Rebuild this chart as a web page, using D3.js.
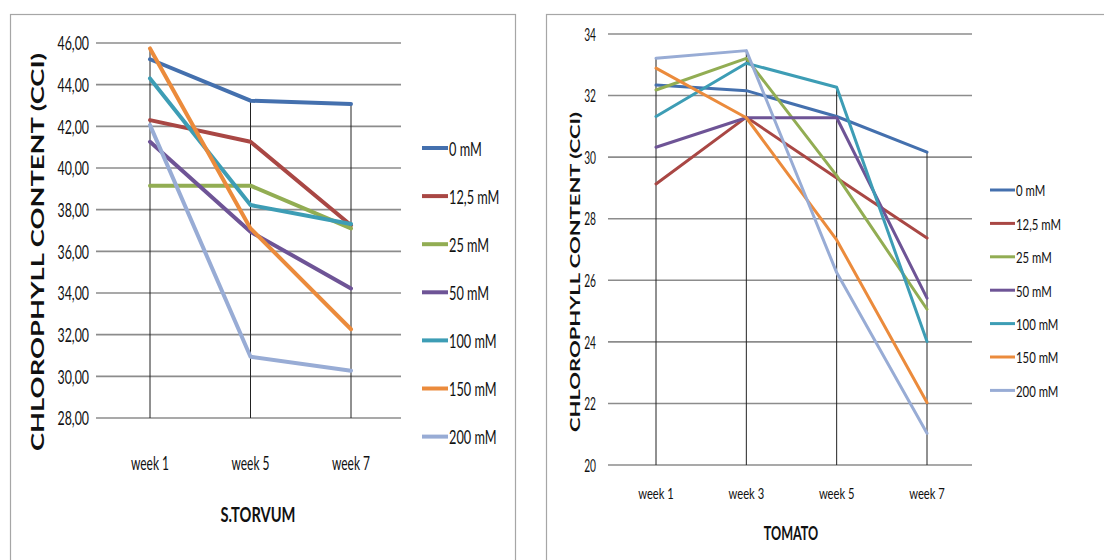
<!DOCTYPE html>
<html>
<head>
<meta charset="utf-8">
<script src="https://cdn.jsdelivr.net/npm/d3@7"></script>
<style>
  html, body { margin: 0; padding: 0; background: #fff; }
  svg { display: block; }
  text { font-family: Lato, "Open Sans", sans-serif; fill: #111; }
</style>
</head>
<body>
<svg id="chart" width="1104" height="560"></svg>
<script>
// Salt treatments shared by both panels
const doses = ["0 mM", "12,5 mM", "25 mM", "50 mM", "100 mM", "150 mM", "200 mM"];
const doseColors = ["#4470ae", "#a94744", "#92ad53", "#6e5496", "#3d9db5", "#eb8b3c", "#98acd5"];

// S. torvum: chlorophyll content (CCI) per dose, one row per dose
const torvumWeeks = ["week 1", "week 5", "week 7"];
const torvumValues = [
  [45.22, 43.23, 43.07],
  [42.30, 41.26, 37.25],
  [39.15, 39.15, 37.10],
  [41.26, 36.94, 34.22],
  [44.30, 38.22, 37.31],
  [45.74, 37.10, 32.26],
  [42.06, 30.94, 30.27]
];
const torvumTicks = [28, 30, 32, 34, 36, 38, 40, 42, 44, 46];

// Tomato: chlorophyll content (CCI) per dose
const tomatoWeeks = ["week 1", "week 3", "week 5", "week 7"];
const tomatoValues = [
  [32.34, 32.16, 31.32, 30.16],
  [29.13, 31.30, 29.32, 27.37],
  [32.18, 33.21, 29.40, 25.06],
  [30.32, 31.28, 31.28, 25.42],
  [31.32, 33.05, 32.27, 24.01],
  [32.89, 31.28, 27.31, 22.03],
  [33.21, 33.46, 26.25, 21.03]
];
const tomatoTicks = [20, 22, 24, 26, 28, 30, 32, 34];

const svg = d3.select("#chart");

// Horizontally condensed label placed at (x, y)
function label(g, str, x, y, opts) {
  const o = Object.assign({ size: 16, sx: 0.75, anchor: "start", weight: "normal", rotate: 0 }, opts || {});
  const t = g.append("text")
    .attr("transform", o.rotate
      ? `translate(${x},${y}) rotate(${o.rotate}) scale(1,${o.sx})`
      : `translate(${x},${y}) scale(${o.sx},1)`)
    .attr("text-anchor", o.anchor)
    .attr("dominant-baseline", "central")
    .style("font-size", o.size + "px")
    .style("font-weight", o.weight)
    .text(str);
  if (o.length) t.attr("textLength", o.length).attr("lengthAdjust", "spacingAndGlyphs");
  return t;
}

function drawPanel(cfg) {
  const g = svg.append("g");

  // chart frame
  g.append("rect")
    .attr("x", cfg.frame[0] + 0.5).attr("y", cfg.frame[1] + 0.5)
    .attr("width", cfg.frame[2]).attr("height", cfg.frame[3])
    .attr("fill", "none").attr("stroke", "#a6a6a6").attr("stroke-width", 1.2);

  const x = d3.scalePoint().domain(cfg.weeks).range(cfg.xRange);
  const y = d3.scaleLinear().domain(cfg.yDomain).range(cfg.yRange);

  // horizontal gridlines
  g.append("g").selectAll("line").data(cfg.ticks).join("line")
    .attr("x1", cfg.plotX[0]).attr("x2", cfg.plotX[1])
    .attr("y1", d => y(d)).attr("y2", d => y(d))
    .attr("stroke", "#8c8c8c").attr("stroke-width", 1.6);

  // tick labels
  cfg.ticks.forEach(t => label(g, cfg.tickFormat(t), cfg.tickX, y(t),
    { size: cfg.tickSize, sx: cfg.tickSx, anchor: "end" }));

  // drop lines from the highest series value to the category axis
  g.append("g").selectAll("line").data(cfg.weeks).join("line")
    .attr("x1", d => x(d)).attr("x2", d => x(d))
    .attr("y1", (d, i) => y(d3.max(cfg.values, s => s[i])))
    .attr("y2", y(cfg.yDomain[0]))
    .attr("stroke", "#222").attr("stroke-width", 1);

  // series lines
  const line = d3.line().x((d, i) => x(cfg.weeks[i])).y(d => y(d));
  g.append("g").selectAll("path").data(cfg.values).join("path")
    .attr("d", line)
    .attr("fill", "none")
    .attr("stroke", (d, i) => doseColors[i])
    .attr("stroke-width", cfg.lineWidth)
    .attr("stroke-linejoin", "round")
    .attr("stroke-linecap", "round");

  // category labels
  cfg.weeks.forEach(w => label(g, w, x(w), cfg.weekY,
    { size: cfg.weekSize, sx: cfg.weekSx, anchor: "middle" }));

  // axis titles
  label(g, cfg.title, cfg.titlePos[0], cfg.titlePos[1],
    { size: cfg.titleSize, sx: 0.7, anchor: "middle", weight: "bold" });
  label(g, "CHLOROPHYLL CONTENT (CCI)", cfg.yTitlePos[0], cfg.yTitlePos[1],
    { size: cfg.yTitleSize, sx: 0.95, anchor: "middle", weight: "bold", rotate: -90, length: cfg.yTitleLength });

  // legend
  const lg = g.append("g");
  doses.forEach((name, i) => {
    const ly = cfg.legendY + i * cfg.legendStep;
    lg.append("line")
      .attr("x1", cfg.legendX).attr("x2", cfg.legendX + cfg.swatch)
      .attr("y1", ly).attr("y2", ly)
      .attr("stroke", doseColors[i]).attr("stroke-width", cfg.lineWidth);
    label(lg, name, cfg.legendX + cfg.swatch + 1, ly,
      { size: cfg.legendSize, sx: cfg.legendSx, anchor: "start" });
  });
}

drawPanel({
  frame: [10, 14, 505, 600],
  weeks: torvumWeeks, values: torvumValues, ticks: torvumTicks,
  xRange: [150, 351], plotX: [96, 401],
  yDomain: [28, 46], yRange: [418, 43],
  tickFormat: d => d3.format(".2f")(d).replace(".", ","),
  tickX: 89, tickSize: 20, tickSx: 0.62,
  lineWidth: 4,
  weekY: 462, weekSize: 19, weekSx: 0.63,
  title: "S.TORVUM", titlePos: [258, 514], titleSize: 21,
  yTitlePos: [38, 252], yTitleSize: 17, yTitleLength: 398,
  legendX: 422, swatch: 26, legendY: 148, legendStep: 48.1, legendSize: 19, legendSx: 0.67
});

drawPanel({
  frame: [546, 14, 600, 600],
  weeks: tomatoWeeks, values: tomatoValues, ticks: tomatoTicks,
  xRange: [656, 927], plotX: [608, 972],
  yDomain: [20, 34], yRange: [465, 34],
  tickFormat: d => String(d),
  tickX: 596, tickSize: 17, tickSx: 0.6,
  lineWidth: 3,
  weekY: 493, weekSize: 16, weekSx: 0.7,
  title: "TOMATO", titlePos: [791, 533], titleSize: 18,
  yTitlePos: [575, 272], yTitleSize: 14, yTitleLength: 320,
  legendX: 990, swatch: 25, legendY: 190, legendStep: 33.4, legendSize: 16, legendSx: 0.71
});
</script>
</body>
</html>
